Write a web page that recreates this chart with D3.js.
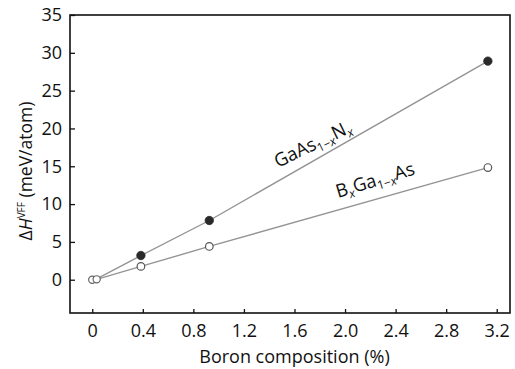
<!DOCTYPE html>
<html>
<head>
<meta charset="utf-8">
<script src="https://cdn.jsdelivr.net/npm/d3@7"></script>
<style>
  html, body { margin: 0; padding: 0; background: #fff; }
  svg { display: block; font-family: "Open Sans", "Noto Sans", sans-serif; }
</style>
</head>
<body>
<svg id="chart" width="515" height="369"></svg>
<script>
// Mixing enthalpy (valence force field) vs boron composition
const xTicks = [0, 0.4, 0.8, 1.2, 1.6, 2.0, 2.4, 2.8, 3.2];
const yTicks = [0, 5, 10, 15, 20, 25, 30, 35];

// GaAs1-xNx (filled markers)
const gaasnX = [0.035, 0.385, 0.926, 3.13];
const gaasnY = [0.1, 3.2, 7.83, 28.9];
// BxGa1-xAs (open markers)
const bgaasX = [0.035, 0.385, 0.926, 3.13];
const bgaasY = [0.05, 1.76, 4.4, 14.83];
// shared points near the origin
const originX = [0, 0.035];
const originY = [0, 0.05];

const svg = d3.select("#chart");
const plotLeft = 70, plotRight = 510, plotTop = 15, plotBottom = 313;
const fs = 18;

const x = d3.scaleLinear().domain([-0.176, 3.305]).range([plotLeft, plotRight]);
const y = d3.scaleLinear().domain([-4.4, 35]).range([plotBottom, plotTop]);

// frame
svg.append("rect")
  .attr("x", plotLeft).attr("y", plotTop)
  .attr("width", plotRight - plotLeft).attr("height", plotBottom - plotTop)
  .attr("fill", "none").attr("stroke", "#111").attr("stroke-width", 1.6);

// x axis (inward ticks)
const xAxis = d3.axisBottom(x).tickValues(xTicks).tickSize(-4).tickPadding(11)
  .tickFormat(d => d === 0 ? "0" : d3.format(".1f")(d));
const gx = svg.append("g").attr("transform", `translate(0,${plotBottom})`).call(xAxis);
gx.select(".domain").remove();
gx.selectAll(".tick line").attr("stroke", "#111").attr("stroke-width", 1.3);
gx.selectAll(".tick text").attr("font-size", fs).attr("fill", "#111")
  .attr("font-family", "\"Open Sans\", sans-serif");

// y axis (inward ticks)
const yAxis = d3.axisLeft(y).tickValues(yTicks).tickSize(-5).tickPadding(8);
const gy = svg.append("g").attr("transform", `translate(${plotLeft},0)`).call(yAxis);
gy.select(".domain").remove();
gy.selectAll(".tick line").attr("stroke", "#111").attr("stroke-width", 1.3);
gy.selectAll(".tick text").attr("font-size", fs).attr("fill", "#111")
  .attr("font-family", "\"Open Sans\", sans-serif");

// axis titles
svg.append("text")
  .attr("x", (x(0) + x(3.2)) / 2).attr("y", 363)
  .attr("text-anchor", "middle").attr("font-size", fs).attr("fill", "#111")
  .text("Boron composition (%)");

const yt = svg.append("text")
  .attr("transform", "translate(32,171) rotate(-90)")
  .attr("text-anchor", "middle").attr("font-size", 17.5).attr("fill", "#111");
yt.append("tspan").text("Δ");
yt.append("tspan").attr("font-style", "italic").text("H");
yt.append("tspan").attr("font-size", 10).attr("dy", -7).text("VFF");
yt.append("tspan").attr("dy", 7).text(" (meV/atom)");

// series lines
const line = d3.line().x(d => x(d[0])).y(d => y(d[1]));
const toPts = (xs, ys) => xs.map((v, i) => [v, ys[i]]);
const gaasn = toPts(gaasnX, gaasnY);
const bgaas = toPts(bgaasX, bgaasY);
const origin = toPts(originX, originY);

[gaasn, bgaas].forEach(pts => {
  svg.append("path").datum(pts).attr("d", line)
    .attr("fill", "none").attr("stroke", "#949494").attr("stroke-width", 1.4);
});

// markers
svg.append("g").selectAll("circle").data(origin).join("circle")
  .attr("cx", d => x(d[0])).attr("cy", d => y(d[1])).attr("r", 3.6)
  .attr("fill", "#fff").attr("stroke", "#666").attr("stroke-width", 1.2);
svg.append("g").selectAll("circle").data(bgaas.slice(1)).join("circle")
  .attr("cx", d => x(d[0])).attr("cy", d => y(d[1])).attr("r", 3.8)
  .attr("fill", "#fff").attr("stroke", "#555").attr("stroke-width", 1.2);
svg.append("g").selectAll("circle").data(gaasn.slice(1)).join("circle")
  .attr("cx", d => x(d[0])).attr("cy", d => y(d[1])).attr("r", 4.2)
  .attr("fill", "#2a2a2a").attr("stroke", "#2a2a2a").attr("stroke-width", 0.8);

// series labels
const l1 = svg.append("text")
  .attr("transform", "translate(278,168) rotate(-26)")
  .attr("font-size", 18.5).attr("fill", "#111");
l1.append("tspan").text("GaAs");
l1.append("tspan").attr("font-size", 12).attr("dy", 4).text("1−");
l1.append("tspan").attr("font-size", 12).attr("font-style", "italic").text("x");
l1.append("tspan").attr("dy", -4).text("N");
l1.append("tspan").attr("font-size", 12).attr("dy", 4).attr("font-style", "italic").text("x");

const l2 = svg.append("text")
  .attr("transform", "translate(338,198) rotate(-17)")
  .attr("font-size", 18.5).attr("fill", "#111");
l2.append("tspan").text("B");
l2.append("tspan").attr("font-size", 12).attr("dy", 4).attr("font-style", "italic").text("x");
l2.append("tspan").attr("dy", -4).text("Ga");
l2.append("tspan").attr("font-size", 12).attr("dy", 4).text("1−");
l2.append("tspan").attr("font-size", 12).attr("font-style", "italic").text("x");
l2.append("tspan").attr("dy", -4).text("As");
</script>
</body>
</html>
